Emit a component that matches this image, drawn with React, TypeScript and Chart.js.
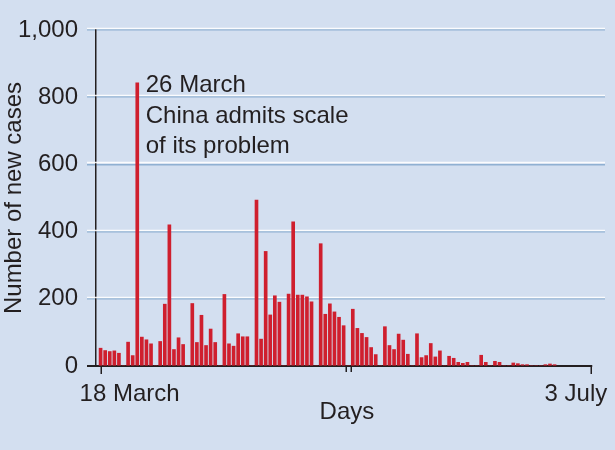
import { useEffect, useRef } from "react";
import { Chart, registerables } from "chart.js";

Chart.register(...registerables);

// ---- data ----
const startLabel = "18 March";
const endLabel = "3 July";
const axisTitleX = "Days";
const axisTitleY = "Number of new cases";
const totalDays = 107; // 18 March -> 3 July
const dailyCases = [
  53, 46, 43, 45, 38, 0, 71, 31, 843, 86,
  78, 66, 0, 73, 184, 420, 49, 84, 64, 0,
  186, 70, 151, 61, 110, 70, 0, 213, 66, 59,
  96, 87, 87, 0, 494, 80, 341, 152, 209, 190,
  0, 214, 429, 211, 211, 206, 191, 0, 364, 154,
  185, 161, 145, 120, 0, 169, 112, 97, 85, 55,
  34, 0, 117, 61, 49, 95, 77, 35, 0, 96,
  25, 31, 67, 27, 45, 0, 29, 23, 11, 8,
  11, 0, 0, 32, 11, 0, 14, 11, 0, 0,
  9, 7, 4, 4, 0, 0, 0, 4, 6, 4,
];
const yTicks = [0, 200, 400, 600, 800, 1000];
const annotationDay = 8;
const annotationLines = ["26 March", "China admits scale", "of its problem"];

// ---- styles ----
const FONT = '"Liberation Sans", Arial, Helvetica, sans-serif';
const TEXT = "#231f20";
const BG = "#d3dff0";
const GRID = "#8fb0d2";
const BAR = "#cf1f2e";
const FS = 24;

const decor = {
  id: "decor",
  beforeDraw(chart: any) {
    const { ctx, width, height } = chart;
    ctx.save();
    ctx.fillStyle = BG;
    ctx.fillRect(0, 0, width, height);
    ctx.restore();
  },
  beforeDatasetsDraw(chart: any) {
    const { ctx, chartArea } = chart;
    const x = chart.scales.x;
    const y = chart.scales.y;
    ctx.save();
    // white highlight above each grid line
    ctx.strokeStyle = "rgba(255,255,255,0.9)";
    ctx.lineWidth = 1.5;
    for (const v of yTicks) {
      if (v === 0) continue;
      const py = Math.round(y.getPixelForValue(v)) - 1.5;
      ctx.beginPath();
      ctx.moveTo(chartArea.left - 9, py);
      ctx.lineTo(chartArea.right, py);
      ctx.stroke();
    }
    // x axis line
    const y0 = Math.round(y.getPixelForValue(0));
    const xEnd = x.getPixelForValue(totalDays);
    ctx.strokeStyle = TEXT;
    ctx.lineWidth = 2;
    ctx.beginPath();
    ctx.moveTo(chartArea.left - 9, y0);
    ctx.lineTo(xEnd + 1, y0);
    ctx.stroke();
    // tick marks below
    ctx.lineWidth = 1.5;
    const ticks: [number, number][] = [
      [0, 8],
      [totalDays / 2, 6],
      [totalDays / 2 + 1, 6],
      [totalDays, 8],
    ];
    for (const [d, len] of ticks) {
      const px = Math.round(x.getPixelForValue(d)) + 0.25;
      ctx.beginPath();
      ctx.moveTo(px, y0);
      ctx.lineTo(px, y0 + len);
      ctx.stroke();
    }
    // x labels
    ctx.fillStyle = TEXT;
    ctx.font = `${FS}px ${FONT}`;
    ctx.textBaseline = "alphabetic";
    ctx.textAlign = "left";
    ctx.fillText(startLabel, x.getPixelForValue(0) - 21, y0 + 35);
    ctx.textAlign = "right";
    ctx.fillText(endLabel, xEnd + 16, y0 + 35);
    ctx.textAlign = "center";
    ctx.fillText(axisTitleX, x.getPixelForValue(totalDays / 2) + 1, y0 + 53);
    ctx.restore();
  },
  afterDatasetsDraw(chart: any) {
    const { ctx } = chart;
    const x = chart.scales.x;
    ctx.save();
    ctx.fillStyle = TEXT;
    ctx.font = `${FS}px ${FONT}`;
    ctx.textAlign = "left";
    ctx.textBaseline = "alphabetic";
    const lx = x.getPixelForValue(annotationDay) + 8.5;
    annotationLines.forEach((t, i) => {
      ctx.fillText(t, lx, 92 + i * 30.5);
    });
    ctx.restore();
  },
};

export default function App() {
  const ref = useRef<HTMLCanvasElement | null>(null);
  useEffect(() => {
    document.body.style.margin = "0";
    const canvas = ref.current!;
    const chart = new Chart(canvas, {
      type: "bar",
      data: {
        datasets: [
          {
            data: dailyCases.map((v, i) => ({ x: i, y: v })),
            backgroundColor: BAR,
            borderWidth: 0,
            barThickness: 3,
          },
        ],
      },
      options: {
        animation: false,
        responsive: false,
        layout: { padding: { left: 0, top: 30, right: 10, bottom: 84 } },
        plugins: { legend: { display: false }, tooltip: { enabled: false } },
        scales: {
          x: {
            type: "linear",
            min: -1,
            max: 110,
            offset: false,
            grid: { offset: false },
            display: false,
          },
          y: {
            min: 0,
            max: 1000,
            afterFit: (s: any) => {
              s.width = 96;
            },
            ticks: {
              stepSize: 200,
              padding: 9,
              color: TEXT,
              font: { family: FONT, size: FS },
              callback: (v: any) => Number(v).toLocaleString("en-US"),
            },
            grid: {
              color: (c: any) => (c.tick && c.tick.value === 0 ? "rgba(0,0,0,0)" : GRID),
              tickColor: (c: any) => (c.tick && c.tick.value === 0 ? TEXT : GRID),
              lineWidth: 1.5,
              tickLength: 9,
            },
            border: { display: true, color: TEXT, width: 1.5 },
            title: {
              display: true,
              text: axisTitleY,
              color: TEXT,
              font: { family: FONT, size: FS },
              padding: { top: 0, bottom: 0 },
            },
          },
        },
      },
      plugins: [decor],
    });
    return () => chart.destroy();
  }, []);
  return (
    <div style={{ position: "absolute", left: 0, top: 0, width: 615, height: 450, background: BG }}>
      <canvas ref={ref} width={615} height={450} style={{ display: "block" }} />
    </div>
  );
}
